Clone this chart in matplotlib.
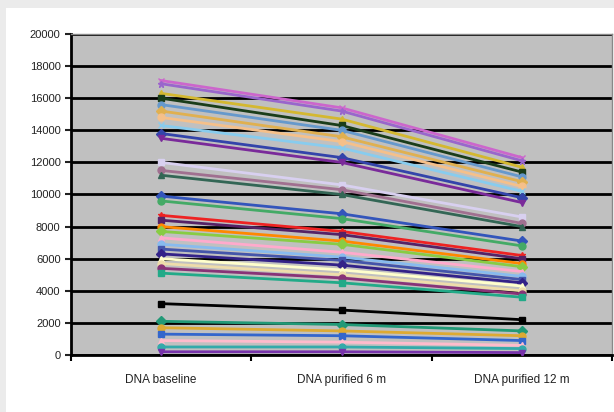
import matplotlib
matplotlib.use("Agg")
import matplotlib.pyplot as plt
from matplotlib.patches import Rectangle

categories = ["DNA baseline", "DNA purified 6 m", "DNA purified 12 m"]

baseline = [17100, 16900, 16300, 16000, 15600, 15200, 14800, 14300, 13800, 13500,
            12000, 11500, 11200, 9900, 9600, 8700, 8400, 8000, 7700, 7300,
            6900, 6600, 6300, 6000, 5700, 5400, 5100, 3200, 2100, 1700,
            1300, 900, 500, 200]
purified_6m = [15400, 15200, 14700, 14300, 14000, 13600, 13300, 12900, 12300, 12000,
               10600, 10300, 10000, 8800, 8500, 7700, 7500, 7100, 6900, 6400,
               6100, 5900, 5600, 5300, 5000, 4800, 4500, 2800, 1900, 1500,
               1200, 800, 500, 200]
purified_12m = [12300, 12100, 11700, 11400, 11100, 10800, 10500, 10200, 9800, 9500,
                8600, 8200, 8000, 7100, 6800, 6200, 6000, 5700, 5500, 5200,
                4900, 4700, 4500, 4300, 4000, 3800, 3600, 2200, 1500, 1200,
                900, 600, 400, 150]

colors = ["#cc66cc", "#9966cc", "#d4b830", "#1a3d1a", "#6699cc", "#e0b050", "#f5c08a",
          "#88ccee", "#3344aa", "#7a2a9a", "#d8d0f0", "#a07090", "#336655", "#3355bb",
          "#44aa66", "#ee2222", "#552266", "#ff8800", "#88cc44", "#ffaacc", "#88bbee",
          "#4455aa", "#332288", "#ffffcc", "#eeddaa", "#883377", "#22aa88", "#000000",
          "#229977", "#ddaa33", "#3366cc", "#ffbbcc", "#33aaaa", "#7733aa"]
markers = ["x", "*", "^", "s", "o", "D", "o", "x", "D", "v",
           "s", "o", "^", "D", "o", "*", "s", "o", "D", "^",
           "o", "s", "D", "^", "o", "o", "s", "s", "D", "o",
           "s", "^", "o", "v"]

plt.rcParams["font.family"] = ["Liberation Sans", "DejaVu Sans"]

fig = plt.figure(figsize=(6.14, 4.12), dpi=100)
fig.patch.set_facecolor("#ebebeb")
fig.patches.append(Rectangle((6 / 614, 0), 1, 1 - 8 / 412, transform=fig.transFigure,
                             facecolor="white", edgecolor="none", zorder=-10))

ax = fig.add_axes([71 / 614, 57 / 412, 541 / 614, 321 / 412])
ax.set_facecolor("#c0c0c0")

x = range(len(categories))
for i in range(len(baseline)):
    ys = [baseline[i], purified_6m[i], purified_12m[i]]
    ax.plot(x, ys, color=colors[i], marker=markers[i], markersize=5, linewidth=2,
            markeredgewidth=1, zorder=3)

ax.set_ylim(0, 20000)
ax.set_xlim(-0.5, 2.5)
ax.set_yticks(range(0, 20001, 2000))
ax.yaxis.grid(True, color="black", linewidth=2)
ax.set_axisbelow(True)
ax.tick_params(axis="y", labelsize=8, colors="#222222", length=4, width=1.5, direction="out")
ax.set_xticks(list(x))
ax.set_xticklabels(categories, fontsize=8.5, color="#222222")
ax.set_xticks([-0.5, 0.5, 1.5, 2.5], minor=True)
ax.tick_params(axis="x", which="major", length=0, pad=14)
ax.tick_params(axis="x", which="minor", length=4, width=1.5, color="black")
for s in ["left", "bottom"]:
    ax.spines[s].set_linewidth(2)
    ax.spines[s].set_color("black")
for s in ["top", "right"]:
    ax.spines[s].set_color("#888888")
    ax.spines[s].set_linewidth(1)

fig.savefig("out.png", dpi=100, facecolor=fig.get_facecolor())
